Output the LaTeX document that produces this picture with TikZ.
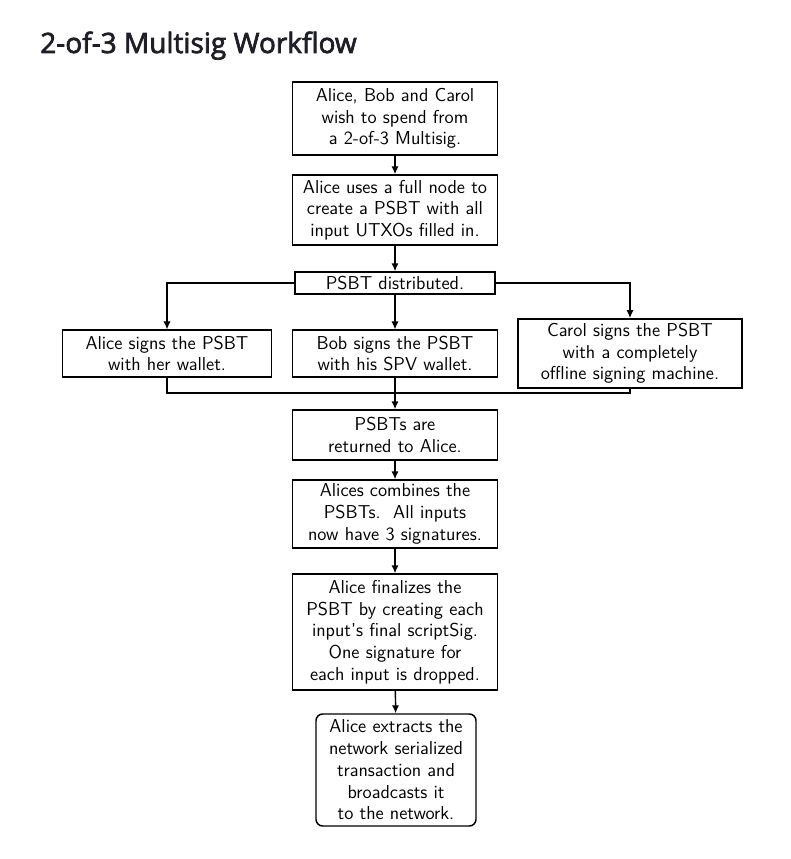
\documentclass[tikz,border=0pt]{standalone}
\usepackage{fontspec}
\newfontfamily\titlefont{Open Sans}[FakeBold=2.5]
\usetikzlibrary{arrows.meta}
\definecolor{titlegray}{RGB}{30,30,40}

\tikzset{
  box/.style={draw, line width=1.1pt, align=center, inner sep=2pt,
    font=\sffamily\fontsize{14}{16.3}\selectfont},
  endbox/.style={box, rounded corners=5pt},
  arr/.style={line width=1.1pt, -{Latex[length=6pt,width=5.5pt]}},
  ln/.style={line width=1.1pt}
}

\begin{document}
\begin{tikzpicture}[x=0.75pt, y=-0.75pt]
    \useasboundingbox (0,0) rectangle (790,859);
    \node[anchor=base west, inner sep=0pt, text=titlegray, font=\titlefont\fontsize{21}{24}\selectfont] (title) at (40,53) {2-of-3 Multisig Workflow};

    \node[box, text width=150pt, minimum height=54.75pt] (wish) at (395,118.5) {Alice, Bob and Carol\\wish to spend from\\a 2-of-3 Multisig.};
    \node[box, text width=150pt, minimum height=52.5pt] (create) at (395,210) {Alice uses a full node to\\create a PSBT with all\\input UTXOs filled in.};
    \node[box, text width=150pt, minimum height=16.5pt, inner sep=0pt] (dist) at (395,283) {PSBT distributed.};
    \node[box, text width=153pt, minimum height=35pt] (alice) at (167,353.5) {Alice signs the PSBT\\with her wallet.};
    \node[box, text width=150pt, minimum height=35pt] (bob) at (395,353.5) {Bob signs the PSBT\\with his SPV wallet.};
    \node[box, text width=164pt, minimum height=52pt] (carol) at (630,353.5) {Carol signs the PSBT\\with a completely\\offline signing machine.};
    \coordinate (join) at (395,393);
    \node[box, text width=150pt, minimum height=37.5pt] (back) at (395,435) {PSBTs are\\returned to Alice.};
    \node[box, text width=150pt, minimum height=51pt] (combine) at (395,514) {Alices combines the\\PSBTs.\ \ All inputs\\now have 3 signatures.};
    \node[box, text width=150pt, minimum height=87pt] (final) at (395,632) {Alice finalizes the\\PSBT by creating each\\input's final scriptSig.\\One signature for\\each input is dropped.};
    \node[endbox, text width=116pt, minimum height=84pt] (extract) at (396,770) {Alice extracts the\\network serialized\\transaction and\\broadcasts it\\to the network.};

    % flow
    \draw[arr] (wish) -- (create);
    \draw[arr] (create) -- (dist);
    \draw[arr] (dist.west) -| (alice.north);
    \draw[arr] (dist) -- (bob);
    \draw[arr] (dist.east) -| (carol.north);
    \draw[ln] (alice.south) |- (join);
    \draw[ln] (carol.south) |- (join);
    \draw[arr] (bob.south) -- (back.north);
    \draw[arr] (back) -- (combine);
    \draw[arr] (combine) -- (final);
    \draw[arr] (final) -- (extract);
\end{tikzpicture}
\end{document}
